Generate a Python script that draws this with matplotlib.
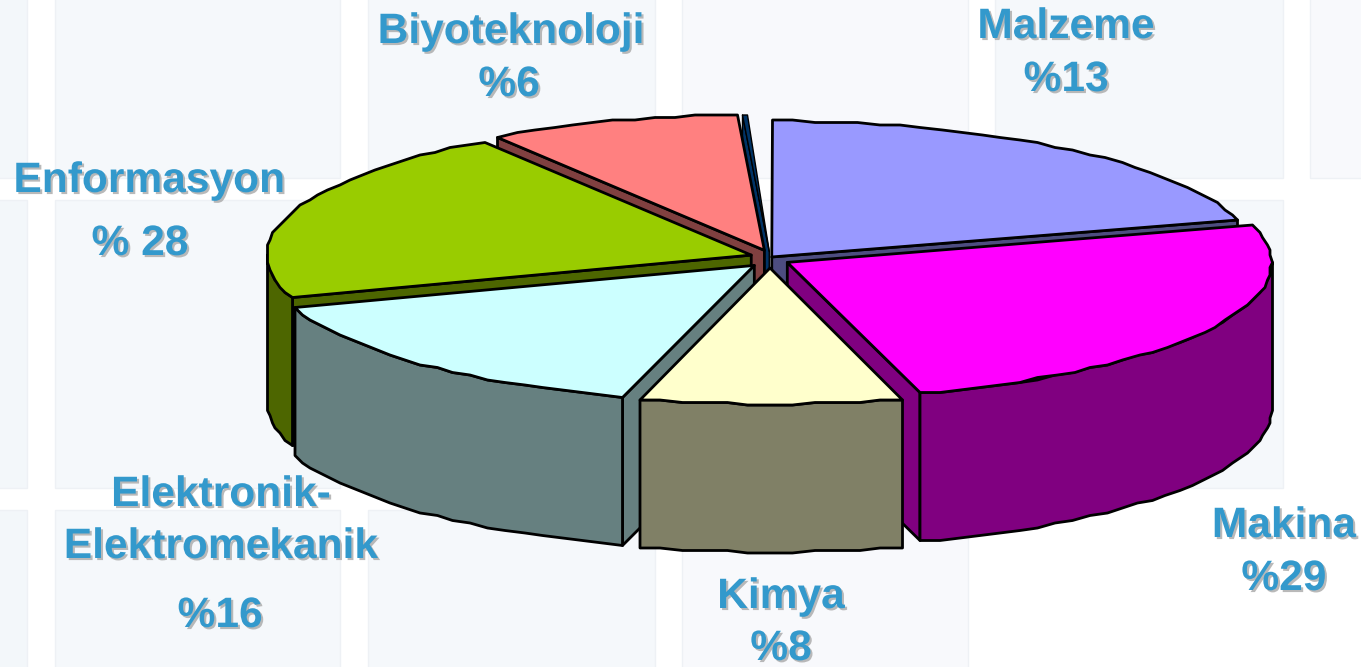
import numpy as np
import matplotlib
matplotlib.use('Agg')
import matplotlib.pyplot as plt
import matplotlib.patheffects as pe
from matplotlib.patches import Polygon, Rectangle

# slice shares as they are drawn in the picture (clockwise from 12 o'clock)
# the last one is the white gap left of Malzeme, it is never painted
names = ['Malzeme', 'Makina', 'Kimya', 'Elektronik', 'Enformasyon', 'Biyoteknoloji', 'Diger', 'Bos']
shares = [20.7, 24.9, 8.75, 15.5, 20.9, 8.4, 0.1, 0.75]
explode = [0.006, 0.041, 0.046, 0.047, 0.041, 0.037, 0.03, 0.0]
top_colors = ['#9999FF', '#FF00FF', '#FFFFCC', '#CCFFFF', '#99CC00', '#FF8080', '#003366']
side_colors = ['#4D4D80', '#800080', '#808066', '#668080', '#4D6600', '#804040', '#003366']
line_widths = [2, 2, 2, 2, 2, 2, 1]
draw_order = [0, 6, 5, 4, 1, 3, 2]

labels = ['Biyoteknoloji', '%6', 'Malzeme', '%13', 'Enformasyon', '% 28',
          'Elektronik-', 'Elektromekanik', '%16', 'Kimya', '%8', 'Makina', '%29']
label_x = [511, 509, 1066, 1066, 149, 140, 221, 221, 220, 781, 781, 1284, 1284]
label_y = [32, 85, 27, 80, 181, 244, 495, 547, 616, 597, 649, 526, 579]

tile_x = [(-260, 27), (55, 340), (368, 655), (682, 968), (995, 1283), (1310, 1600)]
tile_y = [(-110, 178), (200, 488), (510, 800)]
tile_col = ['#F3F7FA', '#F5F8FB', '#F5F8FB', '#F8F9FC', '#F5F8FB', '#F8F9FC']

cx, cy = 770, 258
rx, ry = 484, 136
depth = 148


def snap(pts, grid=2.5):
    return np.round(np.asarray(pts) / grid) * grid


def arc(ax0, ay0, a1, a2):
    n = max(2, int(abs(a1 - a2) / 2.5) + 1)
    t = np.radians(np.linspace(a1, a2, n))
    return snap(np.column_stack([ax0 + rx * np.cos(t), ay0 - ry * np.sin(t)]))


def poly(ax, pts, color, lw=2):
    ax.add_patch(Polygon(pts, closed=True, facecolor=color, edgecolor='black',
                         linewidth=lw, joinstyle='round'))


fig = plt.figure(figsize=(13.61, 6.67), dpi=100)
ax = fig.add_axes([0, 0, 1, 1])
ax.set_xlim(0, 1361)
ax.set_ylim(667, 0)
ax.axis('off')

for i, (x0, x1) in enumerate(tile_x):
    for j, (y0, y1) in enumerate(tile_y):
        if i == 5 and j > 0:
            continue
        if i == 4 and j == 2:
            continue
        ax.add_patch(Rectangle((x0, y0), x1 - x0, y1 - y0, facecolor=tile_col[i],
                               edgecolor='#EEF1F5', linewidth=1))

edges = 90 - np.cumsum([0] + shares) * 3.6
for i in draw_order:
    a, b = edges[i], edges[i + 1]
    m = np.radians((a + b) / 2)
    ox = cx + explode[i] * rx * np.cos(m)
    oy = cy - explode[i] * rx * 0.45 * np.sin(m)
    rim = arc(ox, oy, a, b)
    apex = np.array([ox, oy])
    down = np.array([0, depth])
    lw = line_widths[i]
    # cut faces
    if np.cos(np.radians(a)) < 0:
        poly(ax, [apex, rim[0], rim[0] + down, apex + down], side_colors[i], lw)
    if np.cos(np.radians(b)) > 0:
        poly(ax, [apex, rim[-1], rim[-1] + down, apex + down], side_colors[i], lw)
    # outer wall, only the part facing the viewer
    t = np.linspace(a, b, 200)
    mask = np.sin(np.radians(t)) <= 0
    if mask.any():
        wall = arc(ox, oy, t[mask][0], t[mask][-1])
        poly(ax, np.vstack([wall, wall[::-1] + down]), side_colors[i], lw)
    poly(ax, np.vstack([apex, rim]), top_colors[i], lw)

shadow = [pe.withSimplePatchShadow(offset=(1.5, -1.5), shadow_rgbFace='#A8A8A8', alpha=0.8)]
for s, x, y in zip(labels, label_x, label_y):
    ax.text(x, y, s, ha='center', va='center', fontsize=30.6, fontweight='bold',
            family='Liberation Sans', color='#3399CC', path_effects=shadow)

fig.savefig('out.png', dpi=100)
